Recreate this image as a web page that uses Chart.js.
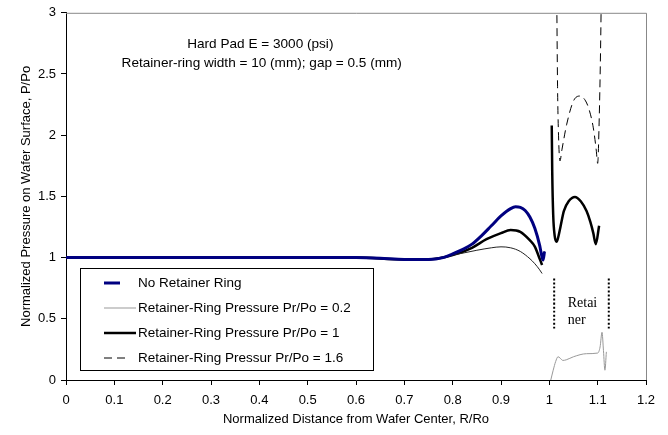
<!DOCTYPE html>
<html>
<head>
<meta charset="utf-8">
<script src="https://cdn.jsdelivr.net/npm/chart.js@4.4.1/dist/chart.umd.min.js"></script>
<style>
  body { margin: 0; background: #fff; }
  #wrap { width: 668px; height: 435px; }
</style>
</head>
<body>
<div id="wrap"><canvas id="chart"></canvas></div>
<script>
const xTicks = [0, 0.1, 0.2, 0.3, 0.4, 0.5, 0.6, 0.7, 0.8, 0.9, 1, 1.1, 1.2]
const yTicks = [0, 0.5, 1, 1.5, 2, 2.5, 3]

const seriesLabels = [
  'No Retainer Ring',
  'Retainer-Ring Pressure Pr/Po = 0.2',
  'Retainer-Ring Pressure Pr/Po = 1',
  'Retainer-Ring Pressur Pr/Po = 1.6'
]

// no retainer ring (wafer only)
const noRingX = [0, 0.1, 0.2, 0.3, 0.4, 0.5, 0.6, 0.65, 0.7, 0.75, 0.78, 0.8, 0.82, 0.84, 0.86, 0.88, 0.9, 0.92, 0.93, 0.94, 0.95, 0.96, 0.97, 0.98, 0.984, 0.987, 0.99]
const noRingY = [1, 1, 1, 1, 1, 1, 1, 0.995, 0.985, 0.985, 1.0, 1.03, 1.065, 1.11, 1.18, 1.26, 1.34, 1.4, 1.415, 1.41, 1.385, 1.33, 1.24, 1.1, 1.02, 0.98, 1.05]

// Pr/Po = 0.2 (null = gap between wafer and ring)
const pr02X = [0, 0.1, 0.2, 0.3, 0.4, 0.5, 0.6, 0.7, 0.75, 0.8, 0.85, 0.88, 0.9, 0.92, 0.94, 0.96, 0.97, 0.98, 0.985, 0.995,
  1.003, 1.008, 1.013, 1.018, 1.022, 1.028, 1.035, 1.05, 1.077, 1.1, 1.105, 1.109, 1.112, 1.115, 1.118]
const pr02Y = [1, 1, 1, 1, 1, 1, 1, 0.985, 0.99, 1.02, 1.06, 1.08, 1.088, 1.08, 1.05, 0.99, 0.95, 0.9, 0.87, null,
  0, 0.08, 0.15, 0.19, 0.18, 0.16, 0.165, 0.19, 0.215, 0.22, 0.27, 0.39, 0.24, 0.08, 0.23]

// Pr/Po = 1
const pr1X = [0, 0.1, 0.2, 0.3, 0.4, 0.5, 0.6, 0.7, 0.75, 0.8, 0.84, 0.87, 0.9, 0.92, 0.94, 0.96, 0.97, 0.98, 0.985, 0.995,
  1.005, 1.006, 1.008, 1.011, 1.015, 1.018, 1.023, 1.03, 1.04, 1.053, 1.065, 1.077, 1.085, 1.091, 1.096, 1.103]
const pr1Y = [1, 1, 1, 1, 1, 1, 1, 0.985, 0.985, 1.02, 1.08, 1.15, 1.2, 1.225, 1.21, 1.14, 1.09, 0.99, 0.94, null,
  2.08, 1.7, 1.35, 1.18, 1.13, 1.16, 1.25, 1.38, 1.46, 1.495, 1.46, 1.38, 1.29, 1.2, 1.11, 1.26]

// Pr/Po = 1.6
const pr16X = [0, 0.1, 0.2, 0.3, 0.4, 0.5, 0.6, 0.65, 0.7, 0.75, 0.78, 0.8, 0.82, 0.84, 0.86, 0.88, 0.9, 0.92, 0.93, 0.94, 0.95, 0.96, 0.97, 0.98, 0.984, 0.987, 0.99, 1.0,
  1.015, 1.017, 1.019, 1.022, 1.026, 1.036, 1.05, 1.063, 1.075, 1.083, 1.091, 1.097, 1.1, 1.103, 1.106, 1.108]
const pr16Y = [1, 1, 1, 1, 1, 1, 1, 0.995, 0.985, 0.985, 1.0, 1.03, 1.065, 1.11, 1.18, 1.26, 1.34, 1.4, 1.415, 1.41, 1.385, 1.33, 1.24, 1.1, 1.02, 0.98, 1.05, null,
  3.3, 2.4, 2.0, 1.79, 1.88, 2.09, 2.28, 2.32, 2.28, 2.2, 2.06, 1.88, 1.77, 2.1, 2.7, 3.3]

// dotted retainer edges
const edgeX = [1.01, 1.123]
const edgeY = [0.42, 0.84]

const notes = ['Hard Pad E = 3000 (psi)', 'Retainer-ring width = 10 (mm); gap = 0.5 (mm)']
const regionLabel = ['Retai', 'ner']

function pts(xs, ys) {
  return xs.map((x, i) => ({ x: x, y: ys[i] }))
}

const FONT = '"Liberation Sans", Arial, sans-serif'

const extras = {
  id: 'extras',
  beforeDatasetsDraw(chart) {
    const { ctx, chartArea: a } = chart
    ctx.save()
    ctx.strokeStyle = '#888'
    ctx.lineWidth = 1
    ctx.beginPath()
    ctx.moveTo(a.left, a.top + 0.5)
    ctx.lineTo(a.right + 0.5, a.top + 0.5)
    ctx.lineTo(a.right + 0.5, a.bottom)
    ctx.stroke()
    ctx.restore()
  },
  afterDatasetsDraw(chart) {
    const { ctx, scales } = chart
    const xs = scales.x
    const ys = scales.y
    ctx.save()
    ctx.fillStyle = '#000'
    ctx.font = '13.6px ' + FONT
    ctx.textAlign = 'center'
    ctx.textBaseline = 'middle'
    ctx.fillText(notes[0], xs.getPixelForValue(0.402), ys.getPixelForValue(2.745))
    ctx.fillText(notes[1], xs.getPixelForValue(0.405), ys.getPixelForValue(2.59))

    ctx.font = '14px "Liberation Serif", "Times New Roman", serif'
    ctx.textAlign = 'left'
    ctx.textBaseline = 'alphabetic'
    ctx.fillText(regionLabel[0], xs.getPixelForValue(1.038), ys.getPixelForValue(0.6))
    ctx.fillText(regionLabel[1], xs.getPixelForValue(1.038), ys.getPixelForValue(0.46))

    // legend box
    ctx.strokeStyle = '#000'
    ctx.lineWidth = 1
    ctx.fillStyle = '#fff'
    ctx.fillRect(81, 269, 292, 101)
    ctx.strokeRect(80.5, 268.5, 293, 102)
    ctx.font = '13.5px ' + FONT
    ctx.textBaseline = 'middle'
    let row = 283
    chart.data.datasets.forEach(ds => {
      if (!ds.label) return
      ctx.save()
      ctx.strokeStyle = ds.borderColor
      ctx.lineWidth = ds.borderWidth
      ctx.setLineDash(ds.borderDash || [])
      ctx.beginPath()
      ctx.moveTo(104, row)
      let end = 136
      if (ds.borderWidth >= 3) end = 120
      if (ds.borderDash) end = 130
      ctx.lineTo(end, row)
      ctx.stroke()
      ctx.restore()
      ctx.fillStyle = '#000'
      ctx.fillText(ds.label, 138, row)
      row += 25
    })
    ctx.restore()
  }
}

const ctx = document.getElementById('chart').getContext('2d')
const chart = new Chart(ctx, {
  type: 'line',
  data: {
    datasets: [
      {
        label: seriesLabels[0],
        data: pts(noRingX, noRingY),
        borderColor: '#000080',
        borderWidth: 3
      },
      {
        label: seriesLabels[1],
        data: pts(pr02X, pr02Y),
        borderColor: '#999',
        borderWidth: 1,
        segment: {
          borderColor: c => (c.p0.parsed.x < 1 ? '#222' : undefined)
        }
      },
      {
        label: seriesLabels[2],
        data: pts(pr1X, pr1Y),
        borderColor: '#000',
        borderWidth: 2.5
      },
      {
        label: seriesLabels[3],
        data: pts(pr16X, pr16Y),
        borderColor: '#000',
        borderWidth: 1,
        borderDash: [8, 5]
      },
      {
        label: '',
        data: pts([edgeX[0], edgeX[0]], edgeY),
        borderColor: '#000',
        borderWidth: 2,
        borderDash: [2, 2]
      },
      {
        label: '',
        data: pts([edgeX[1], edgeX[1]], edgeY),
        borderColor: '#000',
        borderWidth: 2,
        borderDash: [2, 2]
      }
    ]
  },
  options: {
    responsive: true,
    maintainAspectRatio: false,
    animation: false,
    events: [],
    spanGaps: false,
    elements: {
      point: { radius: 0 },
      line: { cubicInterpolationMode: 'monotone', fill: false }
    },
    layout: { padding: { top: 12, right: 22, left: 0, bottom: 0 } },
    plugins: {
      legend: { display: false },
      tooltip: { enabled: false }
    },
    scales: {
      x: {
        type: 'linear',
        min: 0,
        max: 1.2,
        afterBuildTicks: s => { s.ticks = xTicks.map(v => ({ value: v })) },
        afterFit: s => { s.height = 55 },
        border: { color: '#000', width: 1 },
        grid: { drawOnChartArea: false, drawTicks: true, tickLength: 5, color: '#000' },
        ticks: { padding: 8, color: '#000', maxRotation: 0, font: { family: FONT, size: 13 }, callback: v => String(v) },
        title: {
          display: true,
          text: 'Normalized Distance from Wafer Center, R/Ro',
          color: '#000',
          font: { family: FONT, size: 13 },
          padding: { top: 0, bottom: 8 }
        }
      },
      y: {
        type: 'linear',
        min: 0,
        max: 3,
        afterBuildTicks: s => { s.ticks = yTicks.map(v => ({ value: v })) },
        afterFit: s => { s.width = 66 },
        border: { color: '#000', width: 1 },
        grid: { drawOnChartArea: false, drawTicks: true, tickLength: 5, color: '#000' },
        ticks: { padding: 5, color: '#000', font: { family: FONT, size: 13 }, callback: v => String(v) },
        title: {
          display: true,
          text: 'Normalized Pressure on Wafer Surface, P/Po',
          color: '#000',
          font: { family: FONT, size: 13 },
          padding: { top: 19, bottom: 0 }
        }
      }
    }
  },
  plugins: [extras]
})
</script>
</body>
</html>
